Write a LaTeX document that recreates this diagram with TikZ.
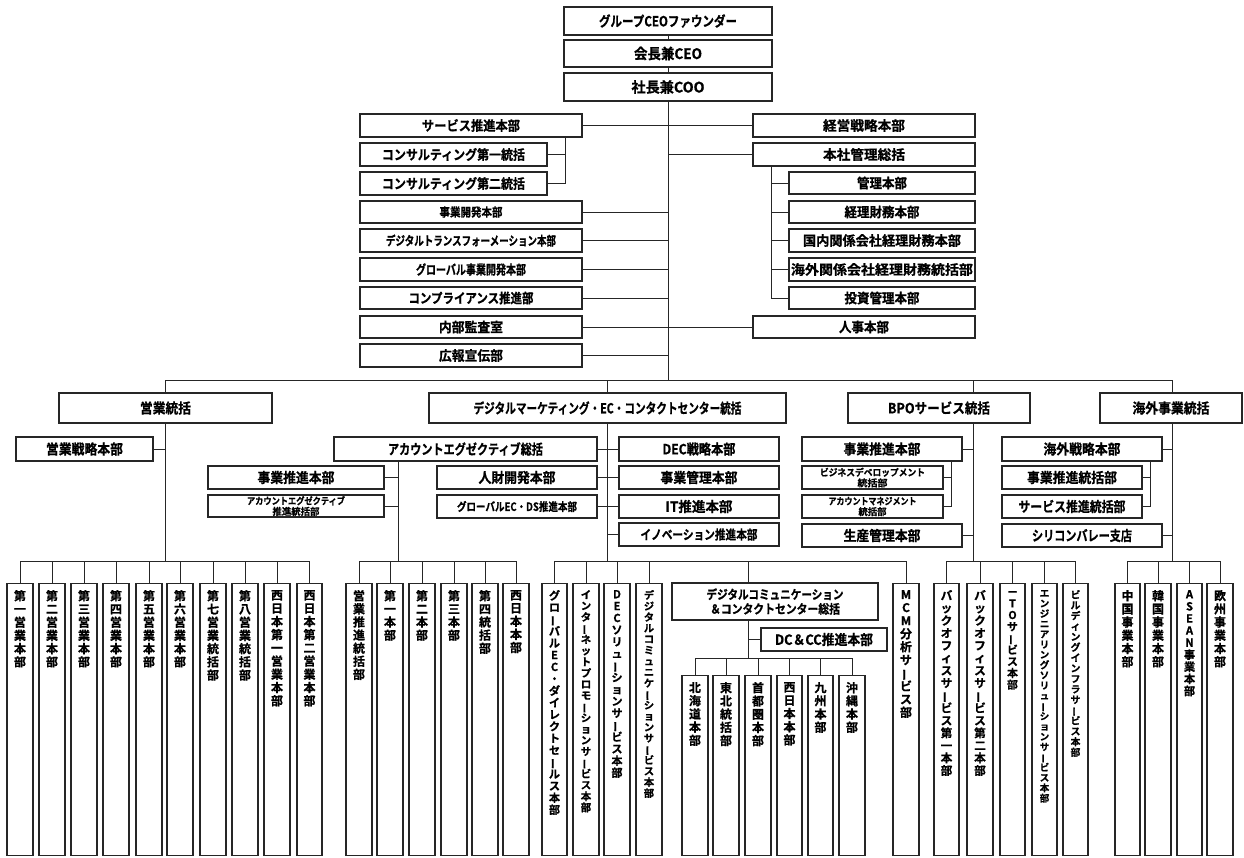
\documentclass[tikz,border=0pt]{standalone}
\usepackage{fontspec}
\usepackage{graphicx}
\setmainfont{Noto Sans CJK JP}[BoldFont={Noto Sans CJK JP Bold},BoldFeatures={FakeBold=0.8}]
\tikzset{
  bx/.style={draw=black!85, line width=1.1pt, fill=white, rectangle, inner sep=0pt, font=\bfseries},
  ln/.style={draw=black!85, line width=1pt},
}
\newcommand\tw[3]{\resizebox{#1pt}{\height}{\fontsize{#2}{#2}\selectfont\bfseries #3}}
\def\vtx#1{\ifx#1\relax\else\vch{#1}\expandafter\vtx\fi}
\def\vch#1{\hbox to 14pt{\hss\vglyph{#1}\hss}}
\def\vglyph#1{\ifx#1ー\rotatebox[origin=c]{90}{ー}\else\ifx#1I\rotatebox[origin=c]{90}{I}\else#1\fi\fi}
% box by corners: [opts] name, x1, y1, x2, y2, text
\newcommand\bb[7][]{\node[bx, minimum width={(#5-#3)*1pt}, minimum height={(#6-#4)*1pt}, #1] (#2) at ({(#3+#5)/2},{(#4+#6)/2}) {#7};}
% vertical box: name, x1, x2, top, pitch, text
\newcommand\vb[6]{\node[bx, anchor=north, minimum width={(#3-#2)*1pt}] (#1) at ({(#2+#3)/2},#4) {\vbox to \dimexpr855pt-#4pt\relax{\vskip6.5pt\fontsize{\fpeval{min(12,#5*0.93)}}{#5}\selectfont\bfseries\baselineskip=#5pt\lineskiplimit=-100pt\lineskip=0pt\vtx#6\relax\vfill}};}
\begin{document}
\begin{tikzpicture}[x=1pt,y=-1pt]
\useasboundingbox (0,0) rectangle (1244,857);
\fill[white] (0,0) rectangle (1244,857);
% top
\bb{f}{564}{7}{772}{35}{\tw{138}{14}{グループCEOファウンダー}}
\bb{ceo}{564}{40}{772}{67}{\tw{68}{14.5}{会長兼CEO}}
\bb{coo}{564}{73}{772}{101}{\tw{73}{14.5}{社長兼COO}}
% left column
\bb{svc}{360}{114}{582}{137}{\tw{98}{13.5}{サービス推進本部}}
\bb{cs1}{360}{143}{547}{166}{\tw{143}{13.5}{コンサルティング第一統括}}
\bb{cs2}{360}{172}{547}{195}{\tw{143}{13.5}{コンサルティング第二統括}}
\bb{jk}{360}{201}{582}{223}{\tw{63}{12}{事業開発本部}}
\bb{dx}{360}{229}{582}{252}{\tw{170}{12.5}{デジタルトランスフォーメーション本部}}
\bb{gb}{360}{258}{582}{281}{\tw{110}{13}{グローバル事業開発本部}}
\bb{cp}{360}{287}{582}{309}{\tw{125}{13.5}{コンプライアンス推進部}}
\bb{ia}{360}{316}{582}{338}{\tw{64}{13.5}{内部監査室}}
\bb{pr}{360}{344}{582}{367}{\tw{64}{13.5}{広報宣伝部}}
% right column
\bb{st}{753}{114}{975}{137}{\tw{82}{13.5}{経営戦略本部}}
\bb{hq}{753}{143}{975}{166}{\tw{82}{13.5}{本社管理総括}}
\bb{m1}{789}{172}{975}{194}{\tw{50}{13.5}{管理本部}}
\bb{m2}{789}{201}{975}{223}{\tw{75}{13.5}{経理財務本部}}
\bb{m3}{789}{229}{975}{252}{\tw{158}{13.5}{国内関係会社経理財務本部}}
\bb{m4}{789}{258}{975}{281}{\tw{182}{13.5}{海外関係会社経理財務統括部}}
\bb{m5}{789}{287}{975}{309}{\tw{75}{13.5}{投資管理本部}}
\bb{hr}{753}{316}{975}{338}{\tw{50}{13.5}{人事本部}}
% second level
\bb{sales}{59}{393}{272}{423}{\tw{51}{14}{営業統括}}
\bb{dm}{429}{393}{786}{423}{\tw{268}{14}{デジタルマーケティング・EC・コンタクトセンター統括}}
\bb{bpo}{848}{393}{1030}{423}{\tw{102}{14}{BPOサービス統括}}
\bb{ov}{1100}{393}{1242}{423}{\tw{77}{14}{海外事業統括}}
\bb{ss}{16}{437}{153}{461}{\tw{77}{14}{営業戦略本部}}
% DM sub
\bb{ae}{334}{437}{597}{461}{\tw{155}{14}{アカウントエグゼクティブ総括}}
\bb{ae1}{208}{466}{384}{489}{\tw{77}{14}{事業推進本部}}
\bb[align=center,font=\fontsize{9.5}{10.5}\selectfont]{ae2}{208}{495}{384}{517}{\tw{98}{9.5}{アカウントエグゼクティブ}\\\tw{47}{9.5}{推進統括部}}
\bb{hd}{437}{466}{597}{489}{\tw{77}{14}{人財開発本部}}
\bb{gec}{437}{495}{597}{518}{\tw{120}{11.5}{グローバルEC・DS推進本部}}
\bb{dec}{619}{437}{779}{461}{\tw{73}{14}{DEC戦略本部}}
\bb{bm}{619}{466}{779}{489}{\tw{77}{14}{事業管理本部}}
\bb{it}{619}{495}{779}{518}{\tw{67}{14}{IT推進本部}}
\bb{inv}{619}{523}{779}{546}{\tw{117}{13}{イノベーション推進本部}}
% BPO sub
\bb{b1}{802}{437}{962}{461}{\tw{77}{14}{事業推進本部}}
\bb[align=center,font=\fontsize{9.5}{10.5}\selectfont]{b2}{802}{466}{943}{489}{\tw{105}{9.5}{ビジネスデベロップメント}\\\tw{30}{9.5}{統括部}}
\bb[align=center,font=\fontsize{9.5}{10.5}\selectfont]{b3}{802}{495}{943}{518}{\tw{88}{9.5}{アカウントマネジメント}\\\tw{28}{9.5}{統括部}}
\bb{b4}{802}{524}{962}{547}{\tw{77}{14}{生産管理本部}}
% overseas sub
\bb{o1}{1002}{437}{1162}{461}{\tw{77}{14}{海外戦略本部}}
\bb{o2}{1002}{466}{1142}{489}{\tw{90}{14}{事業推進統括部}}
\bb{o3}{1002}{495}{1142}{518}{\tw{107}{14}{サービス推進統括部}}
\bb{o4}{1002}{524}{1162}{547}{\tw{100}{14}{シリコンバレー支店}}
% DC box
\bb[align=center,font=\fontsize{12.5}{14.5}\selectfont]{dcc}{672}{583}{878}{620}{\tw{137}{12.5}{デジタルコミュニケーション}\\\tw{130}{12.5}{＆コンタクトセンター総括}}
\bb{dcp}{761}{628}{887}{651}{\tw{98}{14}{DC＆CC推進本部}}
% vertical boxes
\vb{s1}{7}{33}{583}{13.2}{第一営業本部}
\vb{s2}{39}{65}{583}{13.2}{第二営業本部}
\vb{s3}{71}{97}{583}{13.2}{第三営業本部}
\vb{s4}{103}{129}{583}{13.2}{第四営業本部}
\vb{s5}{136}{162}{583}{13.2}{第五営業本部}
\vb{s6}{167}{193}{583}{13.2}{第六営業本部}
\vb{s7}{200}{226}{583}{13.2}{第七営業統括部}
\vb{s8}{232}{258}{583}{13.2}{第八営業統括部}
\vb{s9}{264}{290}{583}{13.2}{西日本第一営業本部}
\vb{s10}{297}{322}{583}{13.2}{西日本第二営業本部}
\vb{a1}{346}{372}{583}{13.1}{営業推進統括部}
\vb{a2}{377}{403}{583}{13.1}{第一本部}
\vb{a3}{409}{435}{583}{13.1}{第二本部}
\vb{a4}{441}{467}{583}{13.1}{第三本部}
\vb{a5}{472}{498}{583}{13.1}{第四統括部}
\vb{a6}{503}{529}{583}{13.1}{西日本本部}
\vb{d1}{542}{567}{583}{11.9}{グローバルEC・ダイレクトセールス本部}
\vb{d2}{573}{599}{583}{11.2}{インターネットプロモーションサービス本部}
\vb{d3}{604}{630}{583}{11.9}{DECソリューションサービス本部}
\vb{d4}{636}{662}{583}{11.0}{デジタルコミュニケーションサービス本部}
\vb{mcm}{893}{919}{583}{13.1}{MCM分析サービス部}
\vb{k1}{682}{708}{675}{13.2}{北海道本部}
\vb{k2}{713}{739}{675}{13.2}{東北統括部}
\vb{k3}{745}{771}{675}{13.2}{首都圏本部}
\vb{k4}{777}{802}{675}{13.2}{西日本本部}
\vb{k5}{808}{833}{675}{13.2}{九州本部}
\vb{k6}{839}{865}{675}{13.2}{沖縄本部}
\vb{p1}{934}{959}{583}{12.5}{バックオフィスサービス第一本部}
\vb{p2}{967}{993}{583}{12.5}{バックオフィスサービス第二本部}
\vb{p3}{1000}{1025}{583}{11.6}{ITOサービス本部}
\vb{p4}{1032}{1057}{583}{10.25}{エンジニアリングソリューションサービス本部}
\vb{p5}{1063}{1088}{583}{10.5}{ビルディングインフラサービス本部}
\vb{c1}{1115}{1140}{583}{13.2}{中国事業本部}
\vb{c2}{1145}{1171}{583}{13.2}{韓国事業本部}
\vb{c3}{1177}{1202}{583}{12.1}{ASEAN事業本部}
\vb{c4}{1207}{1233}{583}{13.2}{欧州事業本部}
% ---------- connectors ----------
\coordinate (busL) at (165.5,380);
\coordinate (busR) at (1172,380);
\coordinate (trunk) at (668,380);
\draw[ln] (f.south) -- (ceo.north);
\draw[ln] (ceo.south) -- (coo.north);
\draw[ln] (coo.south) -- (trunk);
\draw[ln] (svc.east) -- (st.west);
\draw[ln] (ia.east) -- (hr.west);
\foreach \n in {jk,dx,gb,cp,pr} \draw[ln] (\n.east) -- (\n.east -| trunk);
\draw[ln] (hq.west) -- (hq.west -| trunk);
\coordinate (vs) at (565,137);
\draw[ln] (vs) |- (cs2.east);
\draw[ln] (cs1.east) -- (cs1.east -| vs);
\coordinate (vh) at (771,166);
\draw[ln] (vh) |- (m5.west);
\foreach \n in {m1,m2,m3,m4} \draw[ln] (\n.west) -- (\n.west -| vh);
% main bus
\draw[ln] (busL) -- (busR);
\draw[ln] (busL) -- (sales.north);
\draw[ln] (trunk -| dm.north) -- (dm.north);
\coordinate (bpx) at (973,380);
\draw[ln] (bpx) -- (bpx |- bpo.north);
\draw[ln] (busR) -- (busR |- ov.north);
% sales
\coordinate (sv) at (165.5,561);
\draw[ln] (sales.south) -- (sv);
\draw[ln] (ss.east) -- (ss.east -| sv);
\draw[ln] (s1.north |- sv) -- (s10.north |- sv);
\foreach \n in {s1,s2,s3,s4,s5,s6,s7,s8,s9,s10} \draw[ln] (\n.north |- sv) -- (\n.north);
% account executive
\coordinate (aev) at (398,561);
\draw[ln] (aev |- ae.south) -- (aev);
\draw[ln] (ae1.east) -- (ae1.east -| aev);
\draw[ln] (ae2.east) -- (ae2.east -| aev);
\draw[ln] (a1.north |- aev) -- (a6.north |- aev);
\foreach \n in {a1,a2,a3,a4,a5,a6} \draw[ln] (\n.north |- aev) -- (\n.north);
% digital marketing
\coordinate (dmv) at (607.5,561);
\draw[ln] (dm.south) -- (dmv);
\draw[ln] (ae.east) -- (dec.west);
\draw[ln] (hd.east) -- (bm.west);
\draw[ln] (gec.east) -- (it.west);
\draw[ln] (inv.west) -- (inv.west -| dmv);
\draw[ln] (d1.north |- dmv) -- (mcm.north |- dmv);
\foreach \n in {d1,d2,d3,d4,mcm} \draw[ln] (\n.north |- dmv) -- (\n.north);
\coordinate (dcx) at (748,561);
\draw[ln] (dcx) -- (dcx |- dcc.north);
\coordinate (dcv) at (748,658);
\draw[ln] (dcx |- dcc.south) -- (dcv);
\draw[ln] (dcp.west) -- (dcp.west -| dcv);
\draw[ln] (k1.north |- dcv) -- (k6.north |- dcv);
\foreach \n in {k1,k2,k3,k4,k5,k6} \draw[ln] (\n.north |- dcv) -- (\n.north);
% BPO
\coordinate (bv) at (973,561);
\draw[ln] (bv |- bpo.south) -- (bv);
\draw[ln] (b1.east) -- (b1.east -| bv);
\draw[ln] (b4.east) -- (b4.east -| bv);
\coordinate (bs) at (951,461);
\draw[ln] (bs) |- (b3.east);
\draw[ln] (b2.east) -- (b2.east -| bs);
\draw[ln] (p1.north |- bv) -- (p5.north |- bv);
\foreach \n in {p1,p2,p3,p4,p5} \draw[ln] (\n.north |- bv) -- (\n.north);
% overseas
\coordinate (ovv) at (1172,561);
\draw[ln] (busR |- ov.south) -- (ovv);
\draw[ln] (o1.east) -- (o1.east -| ovv);
\draw[ln] (o4.east) -- (o4.east -| ovv);
\coordinate (os) at (1150,461);
\draw[ln] (os) |- (o3.east);
\draw[ln] (o2.east) -- (o2.east -| os);
\draw[ln] (c1.north |- ovv) -- (c4.north |- ovv);
\foreach \n in {c1,c2,c3,c4} \draw[ln] (\n.north |- ovv) -- (\n.north);
\end{tikzpicture}
\end{document}
